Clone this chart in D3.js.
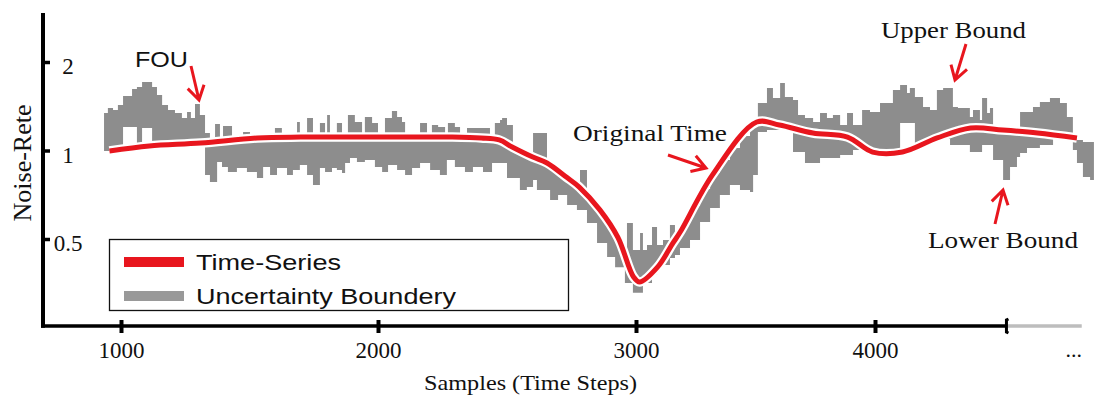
<!DOCTYPE html>
<html><head><meta charset="utf-8">
<script src="https://cdn.jsdelivr.net/npm/d3@7"></script>
<style>body{margin:0;background:#fff}svg{display:block}</style>
</head><body>
<svg id="chart" width="1094" height="400"></svg>
<script>
// ---------- data ----------
const xTicks = [1000, 2000, 3000, 4000];
const yTicks = [0.5, 1, 2];
const xBreak = 4550, xEnd = 4865;

const seriesSamples = [955,1110,1310,1530,1700,2000,2280,2400,2470,2520,2600,2655,2730,2780,2860,2930,2990,3015,3090,3155,3185,3320,3505,3600,3740,3885,3990,4115,4260,4400,4535,4680,4845];
const seriesValues  = [0.996,1.036,1.060,1.103,1.111,1.111,1.111,1.103,1.086,1.028,0.950,0.907,0.812,0.751,0.628,0.506,0.372,0.357,0.401,0.485,0.528,0.826,1.250,1.221,1.147,1.111,0.988,0.988,1.103,1.193,1.174,1.147,1.103];

const bandSamples = [
 934,949,969,988,1008,1043,1062,1082,1121,1140,
 1160,1183,1210,1237,1257,1272,1288,1307,1327,1346,
 1366,1374,1385,1393,1397,1416,1432,1451,1475,1490,
 1502,1529,1553,1580,1599,1607,1626,1646,1669,1685,
 1696,1724,1747,1774,1794,1802,1813,1821,1840,1860,
 1872,1883,1891,1910,1918,1938,1949,1977,1988,2000,
 2016,2027,2039,2054,2074,2093,2105,2132,2163,2190,
 2202,2209,2233,2240,2260,2267,2271,2298,2318,2337,
 2345,2368,2407,2434,2442,2453,2473,2481,2500,2523,
 2550,2577,2601,2616,2655,2667,2698,2733,2771,2783,
 2810,2822,2849,2860,2888,2911,2919,2938,2957,2965,
 2988,3017,3029,3046,3067,3088,3113,3142,3163,3184,
 3226,3268,3310,3351,3393,3435,3477,3490,3510,3548,
 3573,3603,3623,3657,3678,3707,3741,3770,3799,3824,
 3854,3883,3908,3946,3979,4021,4075,4105,4134,4146,
 4167,4201,4230,4259,4285,4314,4326,4347,4397,4410,
 4439,4448,4469,4481,4494,4536,4565,4594,4607,4636,
 4661,4690,4732,4745,4774,4803,4828,4845,4870,4900,
 4916];
const bandUpper = [
 1.341,1.395,1.373,1.428,1.532,1.619,1.644,1.710,1.644,1.545,
 1.428,1.373,1.341,1.290,1.352,1.290,1.439,1.320,1.147,1.069,
 1.231,1.231,1.077,1.077,1.212,1.212,1.086,1.086,1.156,1.156,
 1.094,1.103,1.103,1.103,1.193,1.193,1.103,1.103,1.103,1.250,
 1.112,1.290,1.112,1.240,1.112,1.320,1.112,1.112,1.240,1.112,
 1.112,1.320,1.320,1.250,1.250,1.112,1.300,1.240,1.240,1.112,
 1.112,1.290,1.290,1.363,1.300,1.250,1.112,1.112,1.240,1.112,
 1.112,1.221,1.202,1.202,1.112,1.112,1.240,1.202,1.112,1.112,
 1.193,1.193,1.193,1.103,1.103,1.240,1.270,1.290,1.221,1.012,
 0.981,0.965,1.147,1.147,0.907,0.872,0.832,0.788,0.757,0.858,
 0.700,0.668,0.638,0.604,0.553,0.526,0.496,0.450,0.420,0.567,
 0.459,0.524,0.459,0.477,0.549,0.477,0.496,0.558,0.528,0.567,
 0.647,0.740,0.839,0.928,1.020,1.120,1.212,1.240,1.451,1.632,
 1.509,1.697,1.520,1.485,1.320,1.290,1.250,1.341,1.290,1.320,
 1.221,1.341,1.221,1.373,1.352,1.451,1.606,1.670,1.569,1.632,
 1.520,1.406,1.373,1.606,1.632,1.632,1.406,1.395,1.300,1.373,
 1.270,1.509,1.341,1.395,1.174,1.174,1.165,1.165,1.352,1.352,
 1.406,1.462,1.509,1.509,1.451,1.300,1.112,1.086,1.069,1.069,
 1.069];
const bandLower = [
 0.996,0.996,0.996,1.004,1.202,1.202,1.020,1.193,1.028,1.028,
 1.036,1.036,1.044,1.044,1.052,1.052,1.060,1.060,0.825,0.781,
 0.781,0.914,0.914,0.879,0.879,0.845,0.845,0.872,0.872,0.845,
 0.845,0.806,0.879,0.825,0.825,0.872,0.872,0.825,0.858,0.858,
 0.893,0.825,0.763,0.872,0.845,0.845,0.845,0.872,0.858,0.839,
 0.907,0.907,0.943,0.943,0.914,0.914,0.928,0.928,0.879,0.879,
 0.845,0.845,0.893,0.893,0.858,0.858,0.825,0.872,0.907,0.907,
 0.858,0.858,0.858,0.825,0.825,0.928,0.928,0.879,0.879,0.845,
 0.845,0.879,0.845,0.845,0.907,0.907,0.907,0.907,0.806,0.806,
 0.734,0.751,0.794,0.734,0.734,0.679,0.706,0.653,0.628,0.628,
 0.567,0.567,0.485,0.485,0.434,0.434,0.401,0.401,0.354,0.354,
 0.328,0.328,0.354,0.354,0.377,0.401,0.408,0.431,0.441,0.466,
 0.496,0.571,0.638,0.706,0.763,0.734,0.722,0.825,1.156,1.174,
 1.174,1.193,1.174,0.988,0.988,0.907,0.907,0.943,0.943,0.943,
 0.965,0.965,1.004,1.004,0.965,0.981,0.981,1.240,1.240,1.240,
 1.020,1.036,1.060,1.086,1.094,1.044,1.044,1.044,0.988,0.988,
 0.988,1.044,1.044,1.044,0.928,0.794,0.879,0.950,0.981,1.020,
 1.020,1.044,1.044,1.138,1.129,1.120,1.004,0.907,0.812,0.794,
 0.794];

const legendLabels = ["Time-Series", "Uncertainty Boundery"];
const annotationLabels = ["FOU", "Original Time", "Upper Bound", "Lower Bound"];
const xTitle = "Samples (Time Steps)";
const yTitle = "Noise-Rete";

// ---------- styles / layout ----------
const RED = "#e8161e", GRAY = "#8d8d8d";
const SERIF = "'Liberation Serif','Times New Roman',serif";
const SANS = "'Liberation Sans',Arial,sans-serif";

const svg = d3.select("#chart");
const x = d3.scaleLinear().domain(xTicks).range([121, 378, 636, 875]);
const y = d3.scaleLog().domain([0.5, 2]).range([239, 62]);

// band
const band = bandSamples.map((s, i) => ({s, hi: bandUpper[i], lo: bandLower[i]}));
svg.append("path").datum(band)
  .attr("fill", GRAY)
  .attr("d", d3.area().x(d => x(d.s)).y0(d => y(d.lo)).y1(d => y(d.hi)).curve(d3.curveStepAfter));

// series
const series = seriesSamples.map((s, i) => ({s, v: seriesValues[i]}));
const lineGen = d3.line().x(d => x(d.s)).y(d => y(d.v)).curve(d3.curveCatmullRom.alpha(0.5));
svg.append("path").datum(series).attr("fill", "none").attr("stroke", "#fff")
  .attr("stroke-width", 9.5).attr("stroke-linejoin", "round").attr("d", lineGen);
svg.append("path").datum(series).attr("fill", "none").attr("stroke", RED)
  .attr("stroke-width", 5).attr("stroke-linejoin", "round").attr("d", lineGen);

// x axis
const axisY = 326;
const gx = svg.append("g").attr("transform", `translate(0,${axisY})`)
  .call(d3.axisBottom(x).tickValues(xTicks).tickFormat(d3.format("d")).tickSizeOuter(0));
gx.select(".domain").remove();
gx.selectAll(".tick line").attr("y1", -6).attr("y2", 7).attr("stroke", "#000").attr("stroke-width", 4);
gx.selectAll(".tick text").attr("y", 32).attr("dy", 0)
  .attr("font-family", SERIF).attr("font-size", 23).attr("fill", "#111");
svg.append("line").attr("x1", 41).attr("x2", x(xBreak)).attr("y1", axisY).attr("y2", axisY)
  .attr("stroke", "#000").attr("stroke-width", 3.5);
svg.append("line").attr("x1", x(xBreak)).attr("x2", x(xEnd)).attr("y1", axisY).attr("y2", axisY)
  .attr("stroke", "#bdbdbd").attr("stroke-width", 3.5);
svg.append("path").attr("fill", "none").attr("stroke", "#000").attr("stroke-width", 3)
  .attr("d", `M${x(xBreak)+2},${axisY-7} L${x(xBreak)},${axisY-6} L${x(xBreak)},${axisY+6} L${x(xBreak)+2},${axisY+7}`);
svg.append("text").attr("x", 1082).attr("y", 357).attr("text-anchor", "end")
  .attr("font-family", SERIF).attr("font-size", 22).attr("fill", "#111").text("...");

// y axis
const gy = svg.append("g").attr("transform", "translate(43,0)")
  .call(d3.axisRight(y).tickValues(yTicks).tickFormat(d => String(d)).tickSizeOuter(0));
gy.select(".domain").remove();
gy.selectAll(".tick line").attr("x1", 0).attr("x2", 7).attr("stroke", "#000").attr("stroke-width", 3.5);
gy.selectAll(".tick text").attr("x", 25).attr("dy", "0.5em").attr("text-anchor", "middle")
  .attr("font-family", SERIF).attr("font-size", 23).attr("fill", "#111");
svg.append("line").attr("x1", 43).attr("x2", 43).attr("y1", 13).attr("y2", axisY + 1.75)
  .attr("stroke", "#000").attr("stroke-width", 4);

// titles
svg.append("text").attr("x", 424).attr("y", 390).attr("textLength", 213).attr("lengthAdjust", "spacingAndGlyphs")
  .attr("font-family", SERIF).attr("font-size", 22).attr("fill", "#111").text(xTitle);
svg.append("text").attr("transform", "translate(31,163) rotate(-90)").attr("text-anchor", "middle")
  .attr("font-family", SERIF).attr("font-size", 26).attr("fill", "#111").text(yTitle);

// legend
const lg = svg.append("g");
lg.append("rect").attr("x", 109.5).attr("y", 239.5).attr("width", 459).attr("height", 71)
  .attr("fill", "#fff").attr("stroke", "#111").attr("stroke-width", 1.3);
const legendColors = [RED, "#999999"];
const legendLens = [145, 260];
legendLabels.forEach((lab, i) => {
  const cy = 262 + i * 34;
  lg.append("line").attr("x1", 124).attr("x2", 184).attr("y1", cy).attr("y2", cy)
    .attr("stroke", legendColors[i]).attr("stroke-width", 10);
  lg.append("text").attr("x", 196).attr("y", cy + 8).attr("textLength", legendLens[i])
    .attr("lengthAdjust", "spacingAndGlyphs").attr("font-family", SANS).attr("font-size", 22)
    .attr("fill", "#111").text(lab);
});

// annotations
const annPos = [
  {x: 135, y: 67, font: SANS, size: 22, len: 53},
  {x: 573, y: 141, font: SERIF, size: 23, len: 154},
  {x: 881, y: 38, font: SERIF, size: 23, len: 145},
  {x: 928, y: 248, font: SERIF, size: 23, len: 150}
];
annotationLabels.forEach((t, i) => {
  const p = annPos[i];
  svg.append("text").attr("x", p.x).attr("y", p.y).attr("textLength", p.len)
    .attr("lengthAdjust", "spacingAndGlyphs").attr("font-family", p.font)
    .attr("font-size", p.size).attr("fill", "#111").text(t);
});
const arrows = [
  {from: [191, 66], to: [199, 100]},
  {from: [668, 155], to: [706, 168]},
  {from: [966, 44], to: [955, 80]},
  {from: [995, 224], to: [1003, 190]}
];
arrows.forEach(a => {
  const [x0, y0] = a.from, [x1, y1] = a.to;
  const ang = Math.atan2(y0 - y1, x0 - x1);
  const L = 16, da = 0.55;
  const h1 = [x1 + L * Math.cos(ang + da), y1 + L * Math.sin(ang + da)];
  const h2 = [x1 + L * Math.cos(ang - da), y1 + L * Math.sin(ang - da)];
  svg.append("path").attr("fill", "none").attr("stroke", RED).attr("stroke-width", 3)
    .attr("stroke-linejoin", "miter")
    .attr("d", `M${x0},${y0} L${x1},${y1} M${h1[0]},${h1[1]} L${x1},${y1} L${h2[0]},${h2[1]}`);
});
</script>
</body></html>
